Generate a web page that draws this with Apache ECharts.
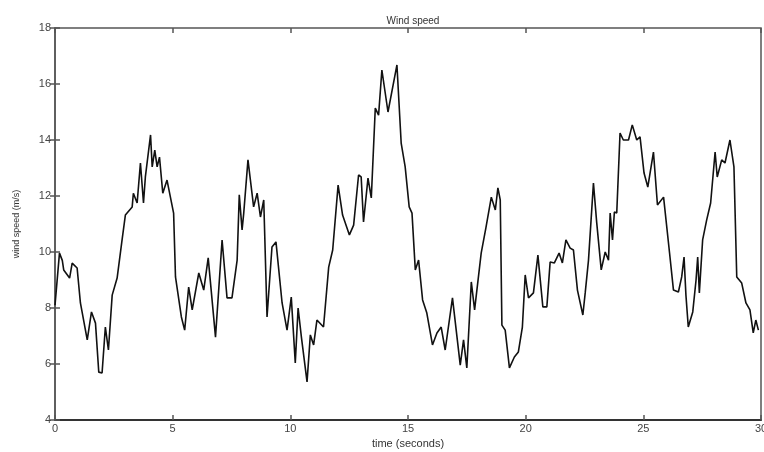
<!DOCTYPE html>
<html><head><meta charset="utf-8">
<script src="https://cdn.jsdelivr.net/npm/echarts@6/dist/echarts.min.js"></script>
<style>html,body{margin:0;padding:0;background:#fff}#c{width:764px;height:452px}</style>
</head><body><div id="c"></div>
<script>
const times = [0,0.19,0.31,0.37,0.62,0.73,0.94,1.08,1.37,1.55,1.72,1.86,2.00,2.14,2.27,2.43,2.64,2.85,2.99,3.28,3.33,3.49,3.63,3.76,3.84,4.06,4.13,4.24,4.34,4.44,4.58,4.76,5.04,5.12,5.37,5.51,5.68,5.83,6.11,6.32,6.51,6.82,7.10,7.31,7.52,7.74,7.83,7.95,8.02,8.20,8.44,8.59,8.73,8.87,9.01,9.22,9.39,9.65,9.86,10.04,10.21,10.33,10.47,10.71,10.85,10.99,11.13,11.41,11.63,11.80,12.03,12.22,12.51,12.69,12.90,13.01,13.11,13.30,13.44,13.61,13.75,13.89,14.15,14.53,14.71,14.88,15.05,15.17,15.31,15.45,15.62,15.80,16.04,16.23,16.41,16.58,16.89,17.22,17.36,17.50,17.69,17.83,18.11,18.31,18.54,18.71,18.82,18.92,18.99,19.13,19.31,19.52,19.69,19.86,19.98,20.12,20.33,20.52,20.73,20.90,21.04,21.22,21.42,21.56,21.71,21.89,22.03,22.20,22.43,22.53,22.67,22.88,23.02,23.21,23.38,23.52,23.59,23.69,23.77,23.87,24.01,24.15,24.37,24.53,24.72,24.86,25.03,25.19,25.43,25.60,25.86,26.11,26.28,26.49,26.63,26.73,26.81,26.91,27.10,27.24,27.31,27.38,27.52,27.69,27.86,28.05,28.14,28.33,28.47,28.68,28.85,28.97,29.18,29.36,29.53,29.67,29.78,29.89];
const speeds = [8.1,9.96,9.7,9.36,9.07,9.6,9.43,8.18,6.86,7.86,7.46,5.71,5.68,7.32,6.5,8.46,9.07,10.43,11.32,11.61,12.1,11.75,13.18,11.75,12.68,14.18,13.04,13.64,13.04,13.39,12.1,12.57,11.39,9.11,7.68,7.21,8.75,7.93,9.25,8.64,9.79,6.96,10.43,8.36,8.36,9.71,12.04,10.79,11.39,13.29,11.61,12.1,11.25,11.86,7.68,10.18,10.36,8.18,7.21,8.39,6.04,8.0,6.96,5.36,7.04,6.68,7.57,7.32,9.46,10.07,12.39,11.32,10.61,10.96,12.75,12.68,11.07,12.64,11.93,15.14,14.89,16.5,15.0,16.68,13.89,13.04,11.61,11.39,9.36,9.71,8.29,7.82,6.68,7.11,7.32,6.5,8.36,5.96,6.86,5.86,8.93,7.93,9.96,10.86,11.96,11.5,12.29,11.86,7.39,7.21,5.86,6.25,6.43,7.32,9.18,8.36,8.54,9.89,8.04,8.04,9.64,9.61,9.96,9.61,10.43,10.14,10.07,8.64,7.75,8.54,9.71,12.46,11.04,9.36,10.0,9.71,11.39,10.43,11.43,11.39,14.25,14.0,14.0,14.54,14.0,14.11,12.82,12.32,13.57,11.68,11.96,10.0,8.64,8.57,9.11,9.82,8.46,7.32,7.86,9.0,9.82,8.54,10.43,11.14,11.75,13.57,12.68,13.29,13.18,14.0,13.04,9.11,8.89,8.18,7.93,7.11,7.57,7.21];
const xTicks = [0,5,10,15,20,25,30];
const yTicks = [4,6,8,10,12,14,16,18];
const title = 'Wind speed';
const xName = 'time (seconds)';
const yName = 'wind speed (m/s)';

const chart = echarts.init(document.getElementById('c'));
const axisCol = '#555';
const lblStyle = {color:'#444', fontSize:11, fontFamily:'Liberation Sans, Arial, sans-serif'};
const tick = {show:true, inside:true, length:5, lineStyle:{color:axisCol, width:1.5}};
chart.setOption({
  animation:false,
  title:{text:title, left:408, top:11, textAlign:'center', textStyle:{fontSize:10, fontWeight:'normal', color:'#333', fontFamily:'Liberation Sans, Arial, sans-serif'}},
  grid:{left:55, right:3, top:28, bottom:32, show:true, borderColor:axisCol, borderWidth:1.5, containLabel:false, outerBoundsMode:'none'},
  xAxis:[
    {type:'value', min:xTicks[0], max:xTicks[xTicks.length-1], interval:5, position:'bottom',
     name:xName, nameLocation:'middle', nameGap:17, nameTextStyle:{fontSize:11,color:'#333',fontFamily:'Liberation Sans, Arial, sans-serif'},
     axisLine:{show:true, lineStyle:{color:'#333', width:2}}, axisTick:tick, splitLine:{show:false},
     axisLabel:Object.assign({margin:3, showMaxLabel:true}, lblStyle)},
    {type:'value', min:0, max:30, interval:5, position:'top', axisLine:{show:false}, axisTick:tick, axisLabel:{show:false}, splitLine:{show:false}}
  ],
  yAxis:[
    {type:'value', min:yTicks[0], max:yTicks[yTicks.length-1], interval:2, position:'left',
     name:yName, nameLocation:'middle', nameGap:34, nameRotate:90, nameTextStyle:{fontSize:9,color:'#333',fontFamily:'Liberation Sans, Arial, sans-serif'},
     axisLine:{show:true, lineStyle:{color:axisCol, width:1.5}}, axisTick:tick, splitLine:{show:false},
     axisLabel:Object.assign({margin:4}, lblStyle)},
    {type:'value', min:4, max:18, interval:2, position:'right', axisLine:{show:false}, axisTick:tick, axisLabel:{show:false}, splitLine:{show:false}}
  ],
  series:[{type:'line', data:times.map((t,i)=>[t,speeds[i]]), showSymbol:false, symbol:'none',
    lineStyle:{color:'#111', width:1.6}}]
});
</script></body></html>
